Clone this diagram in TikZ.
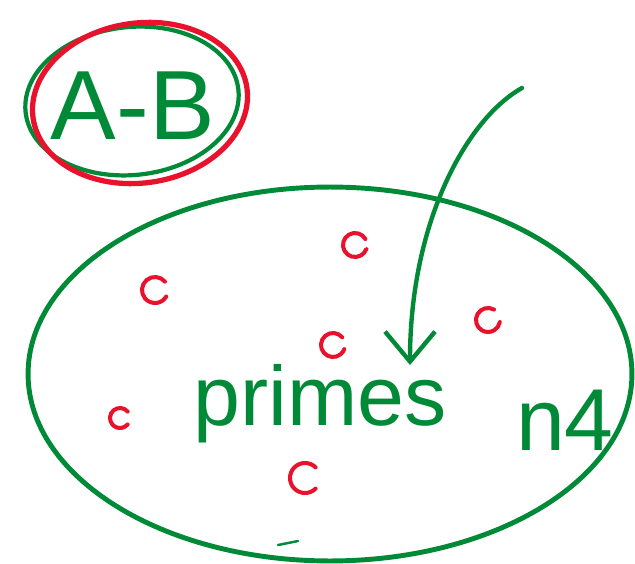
\documentclass[tikz,border=0pt]{standalone}
\usepackage{fontspec}
\setmainfont{Liberation Sans}
\usetikzlibrary{arrows.meta}
\definecolor{penGreen}{RGB}{0,138,56}
\definecolor{penRed}{RGB}{232,18,44}

\begin{document}
\begin{tikzpicture}[x=0.02cm, y=-0.02cm,
	greenpen/.style={draw=penGreen, line width=2.8pt, line cap=round, line join=round},
	redpen/.style={draw=penRed, line width=2.3pt, line cap=round, line join=round},
	handtext/.style={text=penGreen, inner sep=0pt}]
	\useasboundingbox (0,0) rectangle (635,564);
	% the set in the corner, circled twice
	\node[handtext, font=\fontsize{56}{56}\selectfont] (ab) at (133,106) {A-B};
	\draw[greenpen, line width=2.4pt] (ab.center) ++(-1,-5) ellipse[x radius=2.14cm, y radius=1.48cm, rotate=6];
	\draw[redpen, line width=3pt] (ab.center) ++(7,-3) ellipse[x radius=2.16cm, y radius=1.6cm, rotate=8];
	% the big set
	\draw[greenpen] (330,374) ellipse[x radius=6.04cm, y radius=3.74cm];
	\draw[greenpen, line width=1.4pt] (278,545) -- (298,541);
	\node[handtext, font=\fontsize{48}{48}\selectfont, anchor=base] (primes) at (320,425) {primes};
	\node[handtext, font=\fontsize{50}{50}\selectfont] (n4) at (565,420) {n4};
	% arrow into the set
	\coordinate (start) at (522,88);
	\coordinate (tip) at (410,365);
	\draw[greenpen, line width=2.5pt, -{Straight Barb[length=6mm, width=1cm]}] (start) .. controls (468,118) and (410,220) .. (tip);
	% red elements
	\draw[redpen] (355,245) ++(30:0.24cm) arc[start angle=30, end angle=340, radius=0.24cm] -- ++(0.25,0.08);
	\draw[redpen] (155,290) ++(40:0.26cm) arc[start angle=40, end angle=330, radius=0.26cm];
	\draw[redpen] (488,320) ++(60:0.24cm) arc[start angle=60, end angle=350, radius=0.24cm];
	\draw[redpen] (333,345) ++(40:0.24cm) arc[start angle=40, end angle=340, radius=0.24cm];
	\draw[redpen] (120,418) ++(40:0.2cm) arc[start angle=40, end angle=320, radius=0.2cm];
	\draw[redpen] (305,478) ++(45:0.3cm) arc[start angle=45, end angle=315, radius=0.3cm];
\end{tikzpicture}
\end{document}
